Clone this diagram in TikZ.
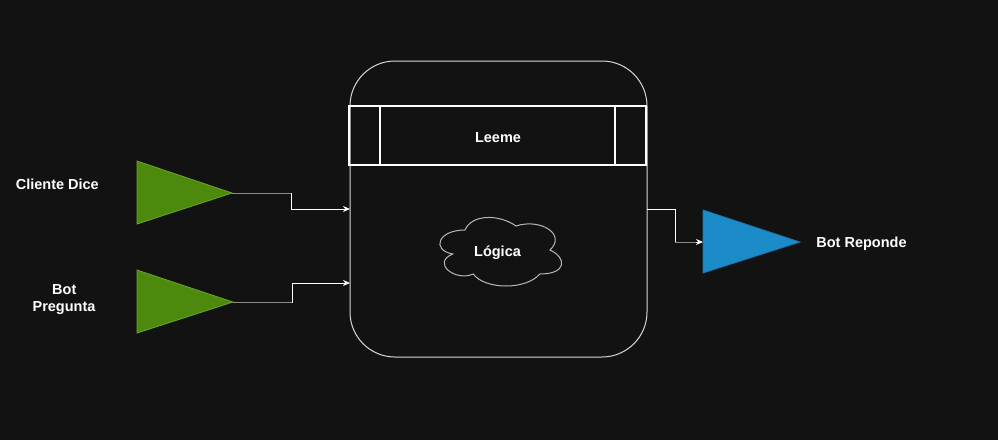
\documentclass[tikz,border=0pt]{standalone}
\usepackage{fontspec}
\setmainfont{Liberation Sans}
\usetikzlibrary{arrows.meta}
\definecolor{bgc}{HTML}{121212}
\definecolor{grnfill}{HTML}{4D890D}
\definecolor{grnline}{HTML}{67A82A}
\definecolor{blufill}{HTML}{1C8CC8}
\definecolor{bluline}{HTML}{1677AE}
\definecolor{boxline}{HTML}{D8D8D8}
\definecolor{edgegray}{HTML}{8C8C8C}
\begin{document}
\begin{tikzpicture}[x=1pt,y=-1pt,
  lbl/.style={text=white,font=\fontsize{14.5}{17}\selectfont\bfseries,inner sep=0pt,anchor=base},
  wire/.style={draw=white,line width=1pt,-{Stealth[length=7pt,width=6pt]}},
  graywire/.style={draw=edgegray,line width=1pt},
  greentri/.style={fill=grnfill,draw=grnline,line width=0.8pt},
  bluetri/.style={fill=blufill,draw=bluline,line width=0.8pt}]
\fill[bgc] (0,0) rectangle (998,440);
\useasboundingbox (0,0) rectangle (998,440);

% main rounded box
\draw[boxline,line width=1pt,rounded corners=45pt] (350,61) rectangle (647,357);
\coordinate (boxIn1) at (350,209);
\coordinate (boxIn2) at (350,283);
\coordinate (boxOut) at (647,209);

% Leeme process box
\draw[white,line width=1.5pt] (349,106) rectangle (646,165);
\draw[white,line width=1.5pt] (380,106) -- (380,165) (615,106) -- (615,165);
\node[lbl] (leeme) at (498,142.3) {Leeme};

% cloud
\begin{scope}[shift={(431,210)},x=136pt,y=-80pt]
\draw[boxline!85!black,line width=1pt]
  (0.25,0.25) .. controls (0.05,0.25) and (0,0.5) .. (0.16,0.55)
  .. controls (0,0.66) and (0.18,0.9) .. (0.31,0.8)
  .. controls (0.4,1) and (0.7,1) .. (0.8,0.8)
  .. controls (1,0.8) and (1,0.6) .. (0.875,0.5)
  .. controls (1,0.3) and (0.8,0.1) .. (0.625,0.2)
  .. controls (0.5,0.05) and (0.3,0.05) .. (0.25,0.25) -- cycle;
\end{scope}
\node[lbl] (logica) at (497.5,256) {Lógica};

% green triangles
\draw[greentri] (137,161) -- (232,193) -- (137,224) -- cycle;
\coordinate (tri1) at (232,193);
\draw[greentri] (137,270) -- (233,302) -- (137,333) -- cycle;
\coordinate (tri2) at (233,302);

% blue triangle
\draw[bluetri] (703,210) -- (800,242) -- (703,273) -- cycle;
\coordinate (tri3) at (703,242);

% connectors
\draw[wire] (tri1) -| (291,209) -- (boxIn1);
\draw[graywire] (tri1) -- (291,193);
\draw[wire] (tri2) -| (292,283) -- (boxIn2);
\draw[graywire] (tri2) -- (292,302);
\draw[wire] (boxOut) -| (675,242) -- (tri3);
\draw[graywire] (675,242) -- (696,242);

% labels
\node[lbl] (cliente) at (57.3,189.3) {Cliente Dice};
\node[lbl] (bot1) at (64.3,294.3) {Bot};
\node[lbl] (bot2) at (64,311.7) {Pregunta};
\node[lbl] (botrep) at (861.5,247.7) {Bot Reponde};
\end{tikzpicture}
\end{document}
